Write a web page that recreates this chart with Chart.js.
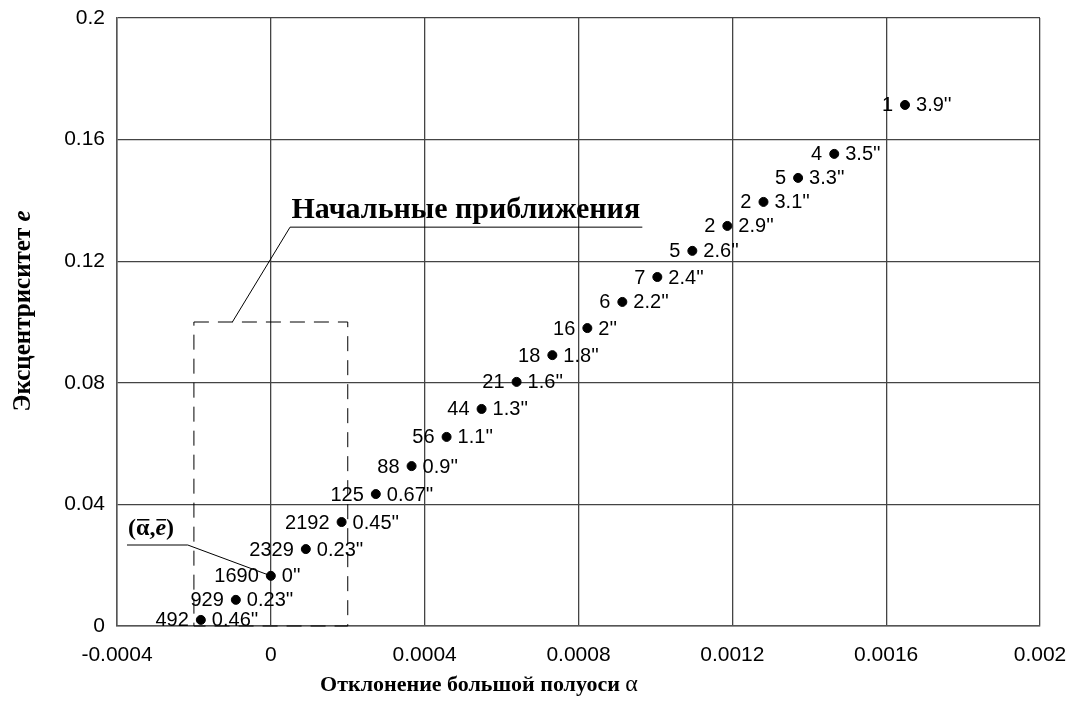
<!DOCTYPE html>
<html>
<head>
<meta charset="utf-8">
<script src="https://cdn.jsdelivr.net/npm/chart.js@4/dist/chart.umd.min.js"></script>
<style>
  html, body { margin: 0; padding: 0; background: #fff; }
  #wrap { width: 1071px; height: 706px; position: relative; }
</style>
</head>
<body>
<div id="wrap"><canvas id="orbitChart"></canvas></div>
<script>
// semi-major axis deviation and eccentricity of each solution
const alpha = [0.001649, 0.001465, 0.001371, 0.001281, 0.001187, 0.001096, 0.001005, 0.000914, 0.000823, 0.000732,
               0.000639, 0.000548, 0.000457, 0.000366, 0.000273, 0.000184, 0.000091, 0, -0.000091, -0.000182];
const ecc = [0.1714, 0.1553, 0.1474, 0.1395, 0.1316, 0.1234, 0.1148, 0.1066, 0.0980, 0.0891,
             0.0803, 0.0714, 0.0622, 0.0526, 0.0434, 0.0342, 0.0253, 0.0165, 0.0086, 0.0020];
// number of initial guesses converged to each solution, and residual
const counts = ['1', '4', '5', '2', '2', '5', '7', '6', '16', '18',
                '21', '44', '56', '88', '125', '2192', '2329', '1690', '929', '492'];
const residuals = ["3.9''", "3.5''", "3.3''", "3.1''", "2.9''", "2.6''", "2.4''", "2.2''", "2''", "1.8''",
                   "1.6''", "1.3''", "1.1''", "0.9''", "0.67''", "0.45''", "0.23''", "0''", "0.23''", "0.46''"];

const xTicks = [-0.0004, 0, 0.0004, 0.0008, 0.0012, 0.0016, 0.002];
const xTickLabels = ['-0.0004', '0', '0.0004', '0.0008', '0.0012', '0.0016', '0.002'];
const yTicks = [0, 0.04, 0.08, 0.12, 0.16, 0.2];
const yTickLabels = ['0', '0.04', '0.08', '0.12', '0.16', '0.2'];

// region of initial approximations
const boxAlpha = [-0.0002, 0.0002];
const boxEcc = [0, 0.1];

const SANS = '"Liberation Sans", Arial, sans-serif';
const SERIF = '"Liberation Serif", "Times New Roman", serif';

const overlay = {
  id: 'overlay',
  afterDatasetsDraw(chart) {
    const { ctx, scales: { x, y } } = chart;
    const px = v => x.getPixelForValue(v);
    const py = v => y.getPixelForValue(v);
    ctx.save();
    ctx.fillStyle = '#000';
    ctx.strokeStyle = '#000';

    // dashed box
    ctx.lineWidth = 1;
    ctx.setLineDash([15, 9]);
    ctx.strokeRect(px(boxAlpha[0]), py(boxEcc[1]), px(boxAlpha[1]) - px(boxAlpha[0]), py(boxEcc[0]) - py(boxEcc[1]));
    ctx.setLineDash([]);

    // labels beside points
    ctx.font = '20px ' + SANS;
    ctx.textBaseline = 'middle';
    alpha.forEach((a, i) => {
      const cx = px(a), cy = py(ecc[i]) + 1;
      ctx.textAlign = 'right';
      ctx.fillText(counts[i], cx - 12, cy);
      ctx.textAlign = 'left';
      ctx.fillText(residuals[i], cx + 11, cy);
    });

    // callout: initial approximations
    ctx.beginPath();
    ctx.moveTo(px(-0.0001), py(0.1));
    ctx.lineTo(px(0.00005), py(0.1312));
    ctx.lineTo(px(0.000966), py(0.1312));
    ctx.stroke();
    ctx.font = 'bold 30px ' + SERIF;
    ctx.textAlign = 'center';
    ctx.textBaseline = 'alphabetic';
    ctx.fillText('Начальные приближения', px(0.000507), py(0.1312) - 9);

    // callout: mean solution
    ctx.beginPath();
    ctx.moveTo(px(-0.000374), py(0.02664));
    ctx.lineTo(px(-0.000216), py(0.02664));
    ctx.lineTo(px(0), py(ecc[17]));
    ctx.stroke();
    drawMeanLabel(ctx, px(-0.000374) + 1, py(0.02664) - 10);

    // axis titles
    ctx.textAlign = 'left';
    ctx.textBaseline = 'alphabetic';
    const xt1 = 'Отклонение большой полуоси ';
    ctx.font = 'bold 22px ' + SERIF;
    const w1 = ctx.measureText(xt1).width;
    ctx.font = '24px ' + SERIF;
    const w2 = ctx.measureText('α').width;
    let sx = 479 - (w1 + w2) / 2;
    ctx.font = 'bold 22px ' + SERIF;
    ctx.fillText(xt1, sx, 691);
    ctx.font = '24px ' + SERIF;
    ctx.fillText('α', sx + w1, 691);

    ctx.translate(30, 311);
    ctx.rotate(-Math.PI / 2);
    const yt1 = 'Эксцентриситет ';
    ctx.font = 'bold 25px ' + SERIF;
    const v1 = ctx.measureText(yt1).width;
    ctx.font = 'bold italic 25px ' + SERIF;
    const v2 = ctx.measureText('e').width;
    ctx.font = 'bold 25px ' + SERIF;
    ctx.fillText(yt1, -(v1 + v2) / 2, 0);
    ctx.font = 'bold italic 25px ' + SERIF;
    ctx.fillText('e', -(v1 + v2) / 2 + v1, 0);
    ctx.restore();
  }
};

// "(ᾱ,ē)" with overbars
function drawMeanLabel(ctx, x0, base) {
  const parts = [
    { t: '(', f: 'bold 24px ' + SERIF, bar: false },
    { t: 'α', f: 'bold 24px ' + SERIF, bar: true },
    { t: ',', f: 'bold 24px ' + SERIF, bar: false },
    { t: 'e', f: 'bold italic 24px ' + SERIF, bar: true },
    { t: ')', f: 'bold 24px ' + SERIF, bar: false }
  ];
  ctx.textAlign = 'left';
  ctx.textBaseline = 'alphabetic';
  let cx = x0;
  parts.forEach(p => {
    ctx.font = p.f;
    const w = ctx.measureText(p.t).width;
    ctx.fillText(p.t, cx, base);
    if (p.bar) {
      ctx.fillRect(cx + 1, base - 16, w - 1, 1.5);
    }
    cx += w;
  });
}

new Chart(document.getElementById('orbitChart'), {
  type: 'scatter',
  data: {
    datasets: [{
      data: alpha.map((a, i) => ({ x: a, y: ecc[i] })),
      backgroundColor: '#000',
      borderColor: '#000',
      pointRadius: 4.5,
      pointHoverRadius: 4.5
    }]
  },
  options: {
    responsive: true,
    maintainAspectRatio: false,
    animation: false,
    layout: { padding: { top: 18, right: 31, left: 0, bottom: 0 } },
    plugins: {
      legend: { display: false },
      tooltip: { enabled: false }
    },
    scales: {
      x: {
        type: 'linear',
        min: -0.0004,
        max: 0.002,
        afterBuildTicks: s => { s.ticks = xTicks.map(v => ({ value: v })); },
        afterFit: s => { s.height = 80; s.paddingLeft = 0; s.paddingRight = 0; },
        ticks: {
          callback: (v, i) => xTickLabels[i],
          font: { family: SANS, size: 21 },
          color: '#000',
          padding: 17,
          maxRotation: 0,
          autoSkip: false
        },
        grid: { color: '#444', lineWidth: 1.3, drawTicks: false },
        border: { color: '#555', width: 1.5 }
      },
      y: {
        min: 0,
        max: 0.2,
        afterBuildTicks: s => { s.ticks = yTicks.map(v => ({ value: v })); },
        afterFit: s => { s.width = 117; s.paddingTop = 0; s.paddingBottom = 0; },
        ticks: {
          callback: (v, i) => yTickLabels[i],
          font: { family: SANS, size: 21 },
          color: '#000',
          padding: 12,
          autoSkip: false
        },
        grid: { color: '#444', lineWidth: 1.3, drawTicks: false },
        border: { color: '#555', width: 1.5 }
      }
    }
  },
  plugins: [overlay]
});
</script>
</body>
</html>
